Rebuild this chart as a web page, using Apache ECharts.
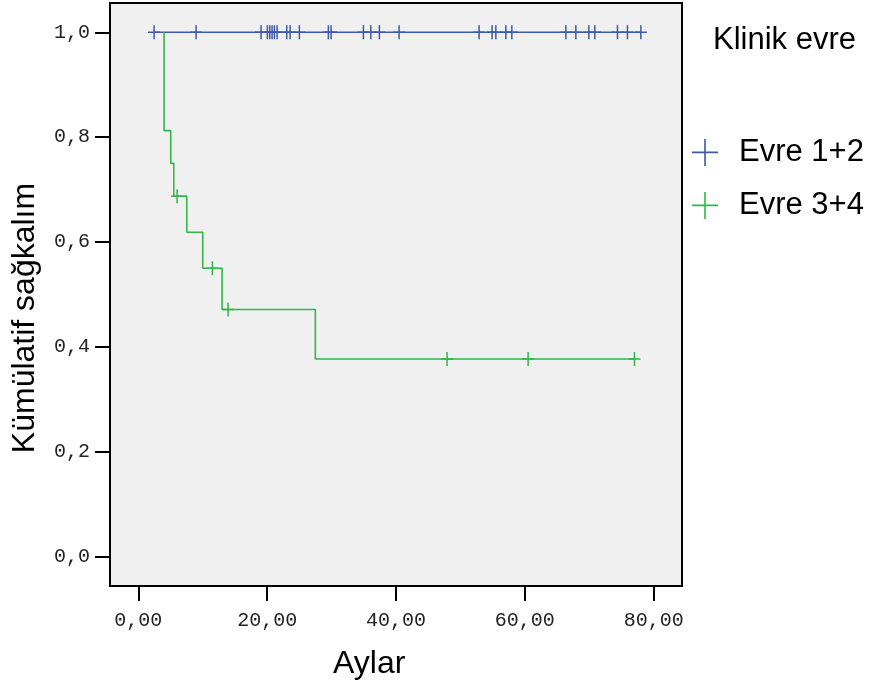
<!DOCTYPE html>
<html>
<head>
<meta charset="utf-8">
<script src="https://cdn.jsdelivr.net/npm/echarts@6/dist/echarts.min.js"></script>
<style>html,body{margin:0;padding:0;background:#fff;}#c{width:871px;height:687px;}</style>
</head>
<body>
<div id="c"></div>
<script>
// Data
var xTicks = [0, 20, 40, 60, 80];
var yTicks = [0, 0.2, 0.4, 0.6, 0.8, 1.0];
var groupNames = ['Evre 1+2', 'Evre 3+4'];
// Evre 1+2: no events, only censored times (survival stays 1.0)
var g1Curve = [[2.44, 1], [78.01, 1]];
var g1Censor = [2.44, 8.96, 19.05, 20.03, 20.40, 20.76, 21.12, 21.54, 23.04, 23.56, 25.0, 29.5, 29.92, 34.94, 36.09, 37.42, 40.48, 52.9, 54.92, 55.5, 57.05, 57.98, 66.37, 67.92, 69.94, 70.87, 74.38, 75.93, 78.01];
// Evre 3+4: step curve [time, survival after time]
var g2Curve = [[3.99, 1], [3.99, 0.8125], [5.03, 0.75], [5.50, 0.6875], [7.52, 0.61875], [10.0, 0.55], [13.0, 0.4714], [27.48, 0.3771], [77.02, 0.3771]];
var g2CensorT = [6.01, 11.49, 13.93, 47.93, 60.51, 77.02];
var g2CensorS = [0.6875, 0.55, 0.4714, 0.3771, 0.3771, 0.3771];

var colors = ['#3E58AC', '#2EB848'];
var crossSym = 'path://M0,6.25h12v1.5h-12z M5.25,0h1.5v14h-1.5z';
var legendSym = 'path://M0,12.6h26v1.6h-26z M12.2,0h1.6v27h-1.6z';

var chart = echarts.init(document.getElementById('c'), null, {renderer: 'canvas'});
var monoFont = '"Liberation Mono", "DejaVu Sans Mono", monospace';
var sansFont = '"Liberation Sans", Arial, sans-serif';

chart.setOption({
  animation: false,
  backgroundColor: '#ffffff',
  grid: {left: 110, top: 3, right: 189, bottom: 101, show: true, backgroundColor: '#F0F0F0', borderColor: '#000', borderWidth: 2},
  title: {text: 'Klinik evre', left: 713, top: 25, padding: 0, textStyle: {fontFamily: sansFont, fontSize: 31, fontWeight: 'normal', color: '#000'}},
  legend: {
    orient: 'vertical', left: 692, top: 137, padding: 0, itemWidth: 26, itemHeight: 27, itemGap: 22,
    data: [{name: groupNames[0], icon: legendSym}, {name: groupNames[1], icon: legendSym}],
    textStyle: {fontFamily: sansFont, fontSize: 31, color: '#000', padding: [0, 0, 0, 16]},
    selectedMode: false
  },
  xAxis: {
    type: 'value', min: -4.4, max: 84.4,
    axisLine: {show: true, onZero: false, lineStyle: {color: '#000', width: 2}},
    axisTick: {show: true, length: 15, customValues: xTicks, lineStyle: {color: '#000', width: 2}},
    axisLabel: {customValues: xTicks, margin: 25, fontFamily: monoFont, fontSize: 20, color: '#222',
      formatter: function (v) { return v.toFixed(2).replace('.', ','); }},
    splitLine: {show: false}
  },
  yAxis: {
    type: 'value', min: -0.0558, max: 1.0558,
    axisLine: {show: true, onZero: false, lineStyle: {color: '#000', width: 2}},
    axisTick: {show: true, length: 15, customValues: yTicks, lineStyle: {color: '#000', width: 2}},
    axisLabel: {customValues: yTicks, margin: 20, fontFamily: monoFont, fontSize: 20, color: '#222',
      formatter: function (v) { return v.toFixed(1).replace('.', ','); }},
    splitLine: {show: false}
  },
  graphic: [
    {type: 'text', left: 333, top: 648, style: {text: 'Aylar', fontFamily: sansFont, fontSize: 32, fill: '#000'}},
    {type: 'text', x: 9, y: 318, rotation: Math.PI / 2, style: {text: 'Kümülatif sağkalım', fontFamily: sansFont, fontSize: 32, fill: '#000', align: 'center', verticalAlign: 'top'}}
  ],
  series: [
    {name: 'c1', type: 'line', step: 'end', data: g1Curve, showSymbol: false, lineStyle: {color: colors[0], width: 1.6}, z: 2},
    {name: 'c2', type: 'line', step: 'end', data: g2Curve, showSymbol: false, lineStyle: {color: colors[1], width: 1.6}, z: 3},
    {name: groupNames[0], type: 'scatter', symbol: crossSym, symbolSize: [12, 14], itemStyle: {color: colors[0], opacity: 1},
      data: g1Censor.map(function (t) { return [t, 1]; }), z: 4},
    {name: groupNames[1], type: 'scatter', symbol: crossSym, symbolSize: [12, 14], itemStyle: {color: colors[1], opacity: 1},
      data: g2CensorT.map(function (t, i) { return [t, g2CensorS[i]]; }), z: 5}
  ]
});
</script>
</body>
</html>
